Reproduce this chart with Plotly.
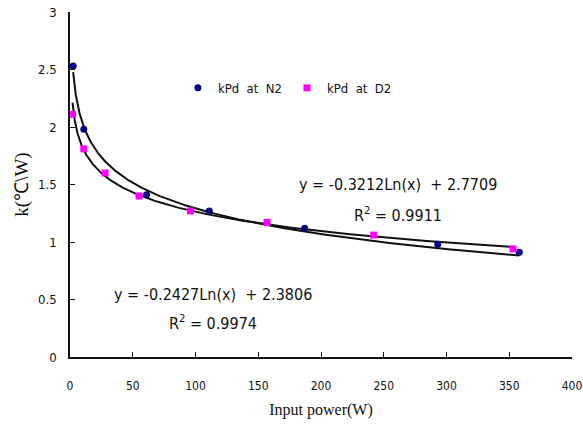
import numpy as np
import plotly.graph_objects as go

# Data
n2_power = [2.5, 11, 61, 111, 187, 293, 358]
n2_k = [2.53, 1.98, 1.41, 1.27, 1.12, 0.98, 0.91]
d2_power = [2.0, 11, 28, 55, 96, 157, 242, 353]
d2_k = [2.11, 1.81, 1.60, 1.40, 1.27, 1.17, 1.06, 0.94]

# Logarithmic trendline coefficients (as shown on the chart)
n2_slope, n2_intercept, n2_r2 = -0.3212, 2.7709, 0.9911
d2_slope, d2_intercept, d2_r2 = -0.2427, 2.3806, 0.9974

x_ticks = [0, 50, 100, 150, 200, 250, 300, 350, 400]
y_ticks = [0, 0.5, 1, 1.5, 2, 2.5, 3]
y_tick_text = ["0", "0.5", "1", "1.5", "2", "2.5", "3"]

narrow = "DejaVu Sans Condensed, Liberation Sans Narrow, Arial Narrow, Liberation Sans, Arial"
serif = "Liberation Serif, Times New Roman, serif"

fig = go.Figure()

def trend(xs, a, b):
    xg = np.geomspace(min(xs), max(xs), 300)
    return xg, a * np.log(xg) + b

xg, yg = trend(n2_power, n2_slope, n2_intercept)
fig.add_trace(go.Scatter(x=xg, y=yg, mode="lines", line=dict(color="#111", width=2),
                         showlegend=False, hoverinfo="skip"))
xg, yg = trend(d2_power, d2_slope, d2_intercept)
fig.add_trace(go.Scatter(x=xg, y=yg, mode="lines", line=dict(color="#111", width=2),
                         showlegend=False, hoverinfo="skip"))

fig.add_trace(go.Scatter(x=n2_power, y=n2_k, mode="markers", name="kPd  at  N2",
                         marker=dict(symbol="circle", size=7, color="#000080")))
fig.add_trace(go.Scatter(x=d2_power, y=d2_k, mode="markers", name="kPd  at  D2",
                         marker=dict(symbol="square", size=7, color="#FF00FF")))

ann_font = dict(family=narrow, size=16, color="#111")
fig.add_annotation(x=261, y=1.50, xref="x", yref="y", showarrow=False,
                   text=f"y = {n2_slope:.4f}Ln(x)  + {n2_intercept:.4f}", font=ann_font)
fig.add_annotation(x=261, y=1.235, xref="x", yref="y", showarrow=False,
                   text=f"R<sup>2</sup> = {n2_r2:.4f}", font=ann_font)
fig.add_annotation(x=114, y=0.54, xref="x", yref="y", showarrow=False,
                   text=f"y = {d2_slope:.4f}Ln(x)  + {d2_intercept:.4f}", font=ann_font)
fig.add_annotation(x=114, y=0.30, xref="x", yref="y", showarrow=False,
                   text=f"R<sup>2</sup> = {d2_r2:.4f}", font=ann_font)

fig.update_layout(
    width=583, height=431,
    margin=dict(l=70, r=11, t=12, b=74),
    paper_bgcolor="white", plot_bgcolor="white",
    showlegend=True,
    legend=dict(orientation="h", x=0.215, y=0.78, xanchor="left", yanchor="middle",
                font=dict(family=narrow, size=13, color="#111"),
                bgcolor="rgba(0,0,0,0)", itemwidth=30, tracegroupgap=0),
    xaxis=dict(range=[0, 400], tickvals=x_ticks, ticks="inside", ticklen=5,
               tickcolor="#111", showline=True, linecolor="#111", linewidth=1.5,
               showgrid=False, zeroline=False, automargin=False,
               ticklabelstandoff=17, ticklabeloverflow="allow",
               tickfont=dict(family=narrow, size=12, color="#111"),
               title=dict(text="Input power(W)", font=dict(family=serif, size=16, color="#111"),
                          standoff=12)),
    yaxis=dict(range=[0, 3], tickvals=y_ticks, ticktext=y_tick_text, ticks="inside", ticklen=5,
               tickcolor="#111", showline=True, linecolor="#111", linewidth=1.5,
               showgrid=False, zeroline=False, automargin=False,
               ticklabelstandoff=9, ticklabeloverflow="allow",
               tickfont=dict(family=narrow, size=13, color="#111"),
               title=dict(text="k(℃\\W)", font=dict(family=serif, size=19, color="#111"),
                          standoff=4)),
)

# Remove the browser's default body margin so the figure fills the window exactly.
fig.write_html("out.html", config={"displayModeBar": False},
               post_script="document.body.style.margin='0';")
